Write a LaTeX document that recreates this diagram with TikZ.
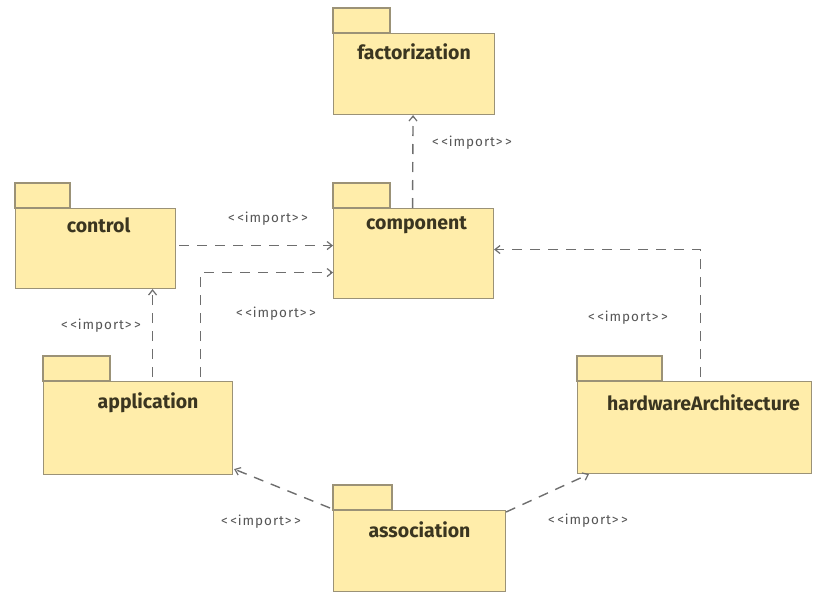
\documentclass[tikz,border=0pt]{standalone}
\usepackage{fontspec}
\setmainfont{Fira Sans}
\newfontfamily\pkgfont{Fira Sans}
\newfontfamily\stereofont[LetterSpace=7]{Fira Sans}
\usetikzlibrary{arrows.meta}
\definecolor{pkgfill}{HTML}{FFEDAA}
\definecolor{pkgline}{HTML}{9B9277}
\definecolor{pkgtext}{HTML}{3A3520}
\definecolor{deplne}{HTML}{6E6E6E}
\definecolor{stereo}{HTML}{555555}
\tikzset{
  pkgbody/.style={draw=pkgline, fill=pkgfill, line width=1.1pt, rectangle,
    anchor=north west, inner sep=0pt},
  pkgtab/.style={draw=pkgline, fill=pkgfill, line width=1.1pt},
  pkgname/.style={font=\pkgfont\bfseries\fontsize{19.5}{22}\selectfont,
    text=pkgtext, inner sep=0pt},
  dep/.style={draw=deplne, line width=1.4pt, dash pattern=on 10pt off 8pt,
    -{Straight Barb[length=5pt,width=8pt,line width=1.2pt]}},
  imp/.style={font=\stereofont\fontsize{13.5}{15}\selectfont, text=stereo,
    inner sep=0pt},
}
\newcommand{\pkg}[6]{% name, x, y, width, height, tab width
  \node[pkgbody, minimum width=#4pt, minimum height=#5pt] (#1) at (#2,#3) {};
  \draw[pkgtab] (#1.north west) rectangle ++(#6,-25);
}
\newcommand{\imptext}{<\kern2.5pt<import>\kern2.5pt>}
\begin{document}
\begin{tikzpicture}[x=1pt,y=-1pt]
  \useasboundingbox (0,0) rectangle (814,594);

  % packages
  \pkg{factorization}{333}{33}{161}{81}{57}
  \pkg{component}{333}{208}{160}{90}{57}
  \pkg{control}{15}{208}{160}{80}{55}
  \pkg{application}{43}{381}{189}{93}{67}
  \pkg{hardwareArchitecture}{577}{381}{234}{92}{85}
  \pkg{association}{333}{510}{172}{81}{59}

  % package names
  \node[pkgname] at ([yshift=-19pt]factorization.north) {factorization};
  \node[pkgname] at ([yshift=-17pt,xshift=3pt]component.north) {component};
  \node[pkgname] at ([yshift=-17pt,xshift=3pt]control.north) {control};
  \node[pkgname] at ([yshift=-22pt,xshift=10pt]application.north) {application};
  \node[pkgname] at ([yshift=-22pt,xshift=9pt]hardwareArchitecture.north) {hardwareArchitecture};
  \node[pkgname] at ([yshift=-20pt,xshift=0pt]association.north) {association};

  % import dependencies
  \draw[dep] ([xshift=-1pt]component.north) -- ([xshift=-1pt]factorization.south);
  \draw[dep] ([xshift=3pt,yshift=3pt]control.east) -- ([yshift=3pt]control.east -| component.west);
  \coordinate (appup) at ([xshift=62.5pt,yshift=4pt]application.north);
  \draw[dep] (appup) |- ([yshift=-19pt]component.west);
  \coordinate (appctl) at ([xshift=14.5pt,yshift=4pt]application.north);
  \draw[dep] (appctl) -- (appctl |- control.south);
  \coordinate (hwup) at ([xshift=6pt,yshift=4pt]hardwareArchitecture.north);
  \draw[dep] (hwup) |- ([yshift=4pt]component.east);
  \draw[dep] ([xshift=-3pt,yshift=2pt]association.north west) -- ([yshift=6pt,xshift=1pt]application.south east);
  \draw[dep] ([yshift=-2pt]association.north east) -- ([xshift=12pt]hardwareArchitecture.south west);

  % stereotypes
  \node[imp] (l1) at (472,143) {\imptext};
  \node[imp] (l2) at (268,219) {\imptext};
  \node[imp] (l3) at (276,314) {\imptext};
  \node[imp] (l4) at (101,326) {\imptext};
  \node[imp] (l5) at (628,318) {\imptext};
  \node[imp] (l6) at (261,522) {\imptext};
  \node[imp] (l7) at (588,521) {\imptext};
\end{tikzpicture}
\end{document}
